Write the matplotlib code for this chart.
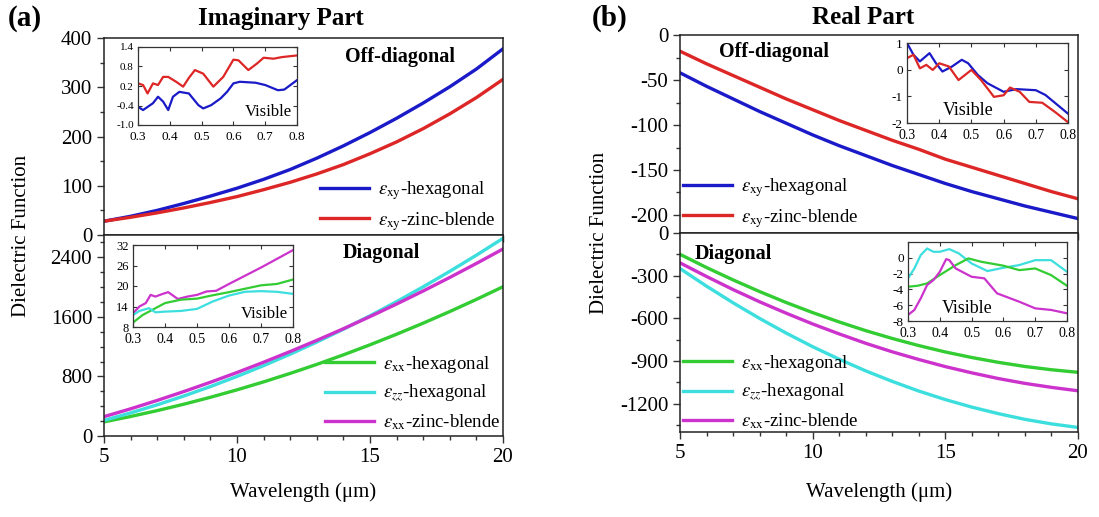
import matplotlib
matplotlib.use("Agg")
import matplotlib.pyplot as plt
from matplotlib.ticker import MultipleLocator, FixedLocator

plt.rcParams['font.family'] = ['Liberation Serif', 'DejaVu Serif']
plt.rcParams['mathtext.fontset'] = 'stix'
plt.rcParams['axes.unicode_minus'] = False

W, H = 1099, 517

# ---------------- data ----------------
wl = [5, 6, 7, 8, 9, 10, 11, 12, 13, 14, 15, 16, 17, 18, 19, 20]

# (a) Imaginary part, off-diagonal
im_xy_hex = [28, 38, 50, 64, 79, 95, 113, 133, 156, 181, 208, 237, 268, 301, 337, 378]
im_xy_zb = [28, 36, 45, 55, 66, 78, 92, 107, 124, 143, 165, 189, 216, 246, 279, 316]
# (a) Imaginary part, diagonal
im_xx_hex = [190, 262, 341, 427, 520, 620, 727, 841, 962, 1090, 1225, 1367, 1516, 1672, 1835, 2005]
im_zz_hex = [210, 310, 419, 537, 664, 800, 945, 1099, 1262, 1434, 1615, 1805, 2004, 2212, 2429, 2655]
im_xx_zb = [260, 365, 478, 597, 722, 853, 991, 1135, 1285, 1441, 1604, 1773, 1948, 2130, 2318, 2512]

# (b) Real part, off-diagonal
re_xy_hex = [-42, -57, -71, -85, -98, -111, -123, -134, -145, -155, -165, -174, -182, -190, -197, -204]
re_xy_zb = [-18, -32, -45, -58, -71, -83, -95, -106, -117, -127, -138, -147, -156, -165, -174, -182]
# (b) Real part, diagonal
re_xx_hex = [-150, -243, -330, -412, -489, -560, -626, -687, -742, -792, -837, -876, -910, -939, -962, -980]
re_zz_hex = [-250, -374, -491, -601, -704, -800, -888, -970, -1044, -1112, -1172, -1225, -1271, -1311, -1343, -1368]
re_xx_zb = [-210, -306, -398, -484, -564, -640, -710, -776, -836, -890, -940, -984, -1024, -1058, -1086, -1110]

# Insets (visible range)
vis_im_off_x_zb = [0.30, 0.316, 0.33, 0.347, 0.363, 0.379, 0.395, 0.42, 0.442, 0.46, 0.479, 0.505, 0.537, 0.568, 0.60, 0.616, 0.647, 0.674, 0.695, 0.726, 0.753, 0.80]
vis_im_off_zb = [0.28, 0.23, -0.03, 0.28, 0.23, 0.48, 0.48, 0.33, 0.18, 0.45, 0.69, 0.58, 0.18, 0.48, 1.01, 0.99, 0.69, 0.89, 1.07, 1.04, 1.09, 1.14]
vis_im_off_x_hex = [0.30, 0.316, 0.347, 0.363, 0.379, 0.395, 0.41, 0.43, 0.46, 0.49, 0.505, 0.53, 0.56, 0.58, 0.60, 0.62, 0.67, 0.70, 0.74, 0.76, 0.80]
vis_im_off_hex = [-0.44, -0.54, -0.33, -0.13, -0.28, -0.54, -0.13, 0.02, -0.03, -0.39, -0.49, -0.39, -0.18, 0.02, 0.28, 0.33, 0.30, 0.23, 0.07, 0.09, 0.38]

vis_im_dg_x_zb = [0.30, 0.32, 0.34, 0.355, 0.37, 0.39, 0.41, 0.425, 0.44, 0.47, 0.50, 0.53, 0.56, 0.60, 0.70, 0.80]
vis_im_dg_zb = [12.0, 14.0, 15.0, 17.4, 16.9, 17.6, 18.2, 17.2, 16.2, 16.9, 17.4, 18.4, 18.6, 20.6, 25.4, 30.5]
vis_im_dg_x = [0.30, 0.33, 0.37, 0.40, 0.45, 0.50, 0.55, 0.60, 0.65, 0.70, 0.75, 0.80]
vis_im_dg_xx = [9.3, 11.5, 13.5, 15.0, 16.0, 16.3, 17.3, 18.2, 19.2, 20.2, 20.6, 21.9]
vis_im_dg_x_zz = [0.30, 0.32, 0.35, 0.37, 0.40, 0.45, 0.50, 0.55, 0.60, 0.65, 0.70, 0.75, 0.80]
vis_im_dg_zz = [11.5, 12.7, 13.5, 12.3, 12.5, 12.7, 13.3, 15.5, 17.2, 18.3, 18.5, 18.3, 17.7]

vis_re_off_x_hex = [0.30, 0.32, 0.34, 0.37, 0.39, 0.41, 0.44, 0.47, 0.49, 0.52, 0.55, 0.60, 0.64, 0.70, 0.73, 0.80]
vis_re_off_hex = [1.0, 0.56, 0.31, 0.62, 0.24, -0.07, 0.12, 0.37, 0.24, -0.20, -0.51, -0.83, -0.73, -0.77, -0.95, -1.65]
vis_re_off_x_zb = [0.30, 0.32, 0.34, 0.36, 0.38, 0.40, 0.43, 0.46, 0.50, 0.53, 0.57, 0.60, 0.62, 0.65, 0.68, 0.72, 0.76, 0.80]
vis_re_off_zb = [0.43, 0.56, 0.05, 0.18, -0.01, 0.24, 0.12, -0.39, -0.01, -0.39, -1.02, -0.96, -0.67, -0.83, -1.21, -1.24, -1.59, -1.97]

vis_re_dg_x_zz = [0.30, 0.32, 0.34, 0.36, 0.38, 0.40, 0.43, 0.46, 0.50, 0.55, 0.60, 0.65, 0.70, 0.75, 0.80]
vis_re_dg_zz = [-2.6, -1.35, 0.34, 1.18, 0.76, 0.76, 1.1, 0.55, -0.72, -1.68, -1.26, -0.92, -0.30, -0.30, -1.77]
vis_re_dg_x_xx = [0.30, 0.33, 0.36, 0.40, 0.45, 0.49, 0.53, 0.60, 0.65, 0.70, 0.75, 0.80]
vis_re_dg_xx = [-3.66, -3.54, -3.24, -2.19, -0.93, -0.08, -0.5, -1.0, -1.56, -1.35, -2.19, -3.54]
vis_re_dg_x_zb = [0.30, 0.32, 0.34, 0.36, 0.38, 0.40, 0.42, 0.43, 0.45, 0.50, 0.54, 0.58, 0.65, 0.70, 0.75, 0.80]
vis_re_dg_zb = [-7.24, -6.6, -5.14, -3.45, -2.82, -1.77, -0.17, -0.3, -1.35, -2.4, -2.6, -4.5, -5.56, -6.4, -6.6, -7.03]

# ---------------- styling ----------------
BLUE = '#1a1ac8'
RED = '#dd2626'
GREEN = '#33cc33'
CYAN = '#3ddede'
MAGENTA = '#cc33cc'
LW = 2.4
ILW = 1.6

lab_xy_hex = r'$\varepsilon_{\rm xy}$-hexagonal'
lab_xy_zb = r'$\varepsilon_{\rm xy}$-zinc-blende'
lab_xx_hex = r'$\varepsilon_{\rm xx}$-hexagonal'
lab_zz_hex = r'$\varepsilon_{zz}$-hexagonal'
lab_xx_zb = r'$\varepsilon_{\rm xx}$-zinc-blende'

fig = plt.figure(figsize=(W / 100, H / 100), dpi=100)


def px_axes(x0, y0, x1, y1):
    return fig.add_axes([x0 / W, 1 - y1 / H, (x1 - x0) / W, (y1 - y0) / H])


def px_pt(x, y):
    return (x / W, 1 - y / H)


def style_main(ax, show_xlabels):
    ax.set_xlim(5, 20)
    ax.xaxis.set_major_locator(FixedLocator([5, 10, 15, 20]))
    ax.xaxis.set_minor_locator(MultipleLocator(1))
    ax.tick_params(which='both', direction='out', labelsize=15, width=1.0, color='#333333')
    ax.tick_params(which='major', length=5)
    ax.tick_params(which='minor', length=3)
    if not show_xlabels:
        ax.tick_params(axis='x', labelbottom=False)
    for s in ax.spines.values():
        s.set_linewidth(1.1)
        s.set_color('#222222')


def style_inset(ax, ylim, yticks, ylabfs, xlabfs):
    ax.set_xlim(0.3, 0.8)
    ax.set_ylim(*ylim)
    ax.set_xticks([0.3, 0.4, 0.5, 0.6, 0.7, 0.8])
    ax.set_yticks(yticks)
    ax.tick_params(axis='both', direction='in', top=True, right=True, length=3, width=0.8,
                   color='#333333')
    ax.tick_params(axis='y', labelsize=ylabfs, pad=3)
    ax.tick_params(axis='x', labelsize=xlabfs, pad=4)
    for s in ax.spines.values():
        s.set_linewidth(0.9)
        s.set_color('#333333')


def add_legend(ax, lines, labels, x, y):
    leg = ax.legend(lines, labels, loc='upper left', bbox_to_anchor=px_pt(x, y),
                    bbox_transform=fig.transFigure, frameon=False, fontsize=13.5,
                    handlelength=2.6, handletextpad=0.5, labelspacing=0.42,
                    borderpad=0, borderaxespad=0)
    return leg


# ---------------- (a) Imaginary part ----------------
axA1 = px_axes(104, 38, 503, 235)
l1, = axA1.plot(wl, im_xy_hex, color=BLUE, lw=LW)
l2, = axA1.plot(wl, im_xy_zb, color=RED, lw=LW)
axA1.set_ylim(0, 400)
axA1.set_yticks([0, 100, 200, 300, 400])
axA1.yaxis.set_minor_locator(MultipleLocator(50))
style_main(axA1, False)
add_legend(axA1, [l1, l2], [lab_xy_hex, lab_xy_zb], 320, 179)
axA1.text(*px_pt(400, 57), 'Off-diagonal', transform=fig.transFigure, ha='center', va='center',
          fontsize=14.5, fontweight='bold')

axA2 = px_axes(104, 235, 503, 436)
m1, = axA2.plot(wl, im_xx_hex, color=GREEN, lw=LW)
m2, = axA2.plot(wl, im_zz_hex, color=CYAN, lw=LW)
m3, = axA2.plot(wl, im_xx_zb, color=MAGENTA, lw=LW)
axA2.set_ylim(0, 2700)
axA2.set_yticks([0, 800, 1600, 2400])
axA2.yaxis.set_minor_locator(MultipleLocator(200))
style_main(axA2, True)
add_legend(axA2, [m1, m2, m3], [lab_xx_hex, lab_zz_hex, lab_xx_zb], 325, 354)
axA2.text(*px_pt(381, 253), 'Diagonal', transform=fig.transFigure, ha='center', va='center',
          fontsize=14.5, fontweight='bold')

# insets (a)
iA1 = px_axes(138, 47, 297, 125)
iA1.plot(vis_im_off_x_zb, vis_im_off_zb, color=RED, lw=ILW)
iA1.plot(vis_im_off_x_hex, vis_im_off_hex, color=BLUE, lw=ILW)
style_inset(iA1, (-1.0, 1.4), [-1.0, -0.4, 0.2, 0.8, 1.4], 8, 9.5)
iA1.yaxis.set_major_formatter(matplotlib.ticker.FuncFormatter(lambda v, p: f'{v:.1f}'))
iA1.text(0.97, 0.06, 'Visible', transform=iA1.transAxes, ha='right', va='bottom', fontsize=12)

iA2 = px_axes(133, 245, 293, 327)
iA2.plot(vis_im_dg_x_zb, vis_im_dg_zb, color=MAGENTA, lw=ILW)
iA2.plot(vis_im_dg_x, vis_im_dg_xx, color=GREEN, lw=ILW)
iA2.plot(vis_im_dg_x_zz, vis_im_dg_zz, color=CYAN, lw=ILW)
style_inset(iA2, (8, 32), [8, 14, 20, 26, 32], 9, 10)
iA2.text(0.97, 0.06, 'Visible', transform=iA2.transAxes, ha='right', va='bottom', fontsize=12)

# ---------------- (b) Real part ----------------
axB1 = px_axes(680, 35, 1078, 233)
n1, = axB1.plot(wl, re_xy_hex, color=BLUE, lw=LW)
n2, = axB1.plot(wl, re_xy_zb, color=RED, lw=LW)
axB1.set_ylim(-220, 0)
axB1.set_yticks([-200, -150, -100, -50, 0])
axB1.yaxis.set_minor_locator(MultipleLocator(25))
style_main(axB1, False)
add_legend(axB1, [n1, n2], [lab_xy_hex, lab_xy_zb], 683, 176)
axB1.text(*px_pt(774, 52), 'Off-diagonal', transform=fig.transFigure, ha='center', va='center',
          fontsize=14.5, fontweight='bold')

axB2 = px_axes(680, 233, 1078, 432)
k1, = axB2.plot(wl, re_xx_hex, color=GREEN, lw=LW)
k2, = axB2.plot(wl, re_zz_hex, color=CYAN, lw=LW)
k3, = axB2.plot(wl, re_xx_zb, color=MAGENTA, lw=LW)
axB2.set_ylim(-1400, 0)
axB2.set_yticks([-1200, -900, -600, -300, 0])
axB2.yaxis.set_minor_locator(MultipleLocator(150))
style_main(axB2, True)
add_legend(axB2, [k1, k2, k3], [lab_xx_hex, lab_zz_hex, lab_xx_zb], 683, 353)
axB2.text(*px_pt(733, 254), 'Diagonal', transform=fig.transFigure, ha='center', va='center',
          fontsize=14.5, fontweight='bold')

# insets (b)
iB1 = px_axes(907, 43, 1068, 123)
iB1.plot(vis_re_off_x_hex, vis_re_off_hex, color=BLUE, lw=ILW)
iB1.plot(vis_re_off_x_zb, vis_re_off_zb, color=RED, lw=ILW)
style_inset(iB1, (-2, 1), [-2, -1, 0, 1], 9.5, 10)
iB1.text(0.38, 0.05, 'Visible', transform=iB1.transAxes, ha='center', va='bottom', fontsize=13)

iB2 = px_axes(908, 242, 1067, 321)
iB2.plot(vis_re_dg_x_zz, vis_re_dg_zz, color=CYAN, lw=ILW)
iB2.plot(vis_re_dg_x_xx, vis_re_dg_xx, color=GREEN, lw=ILW)
iB2.plot(vis_re_dg_x_zb, vis_re_dg_zb, color=MAGENTA, lw=ILW)
style_inset(iB2, (-8, 2), [-8, -6, -4, -2, 0], 9.5, 10)
iB2.text(0.37, 0.05, 'Visible', transform=iB2.transAxes, ha='center', va='bottom', fontsize=13)

# ---------------- titles and labels ----------------
fig.text(*px_pt(8, 18), '(a)', fontsize=21, fontweight='bold', ha='left', va='center')
fig.text(*px_pt(281, 18), 'Imaginary Part', fontsize=18, fontweight='bold', ha='center', va='center')
fig.text(*px_pt(592, 18), '(b)', fontsize=21, fontweight='bold', ha='left', va='center')
fig.text(*px_pt(863, 18), 'Real Part', fontsize=18, fontweight='bold', ha='center', va='center')

fig.text(*px_pt(22, 236), 'Dielectric Function', fontsize=15, rotation=90, ha='center', va='center')
fig.text(*px_pt(600, 233), 'Dielectric Function', fontsize=15, rotation=90, ha='center', va='center')
fig.text(*px_pt(303, 492), 'Wavelength (\u03bcm)', fontsize=15, ha='center', va='center')
fig.text(*px_pt(879, 492), 'Wavelength (\u03bcm)', fontsize=15, ha='center', va='center')

fig.savefig('out.png', dpi=100)
